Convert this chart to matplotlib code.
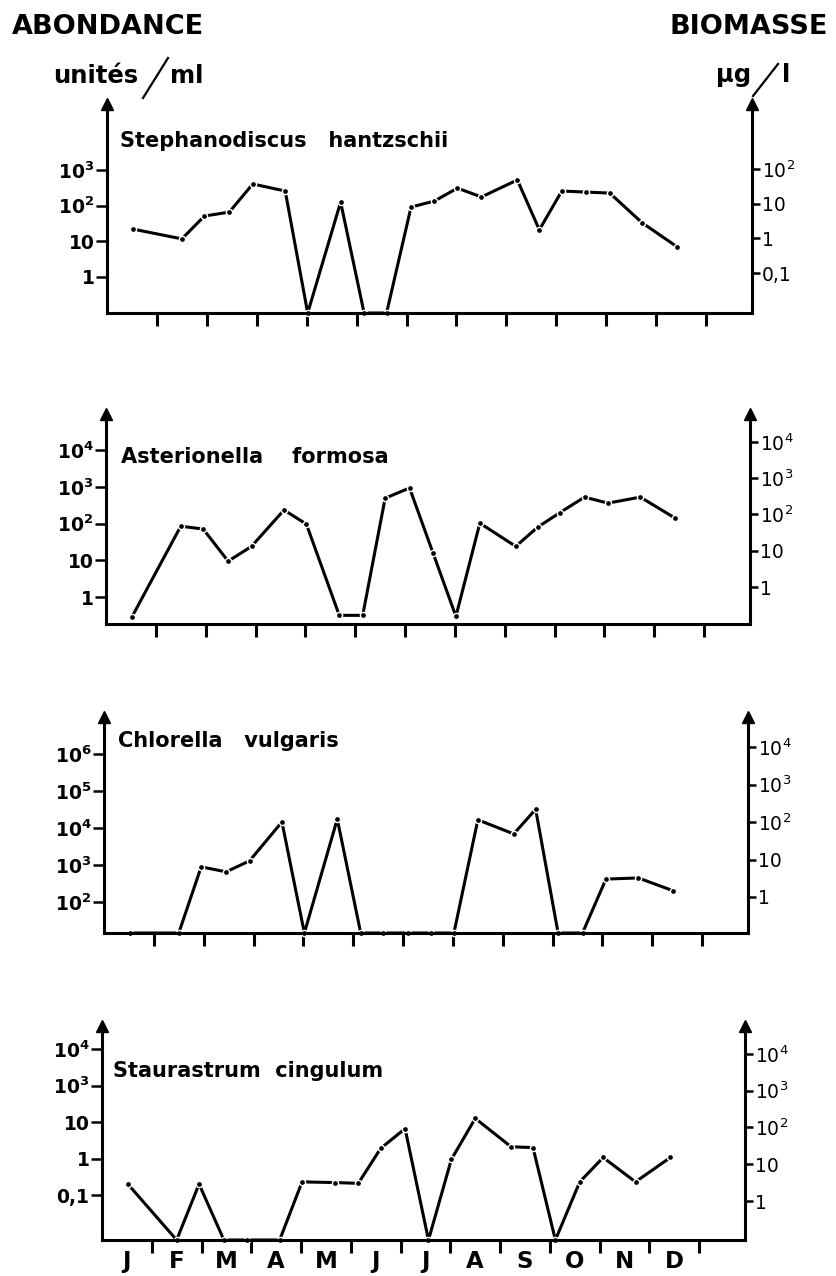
"""Seasonal abundance and biomass of four phytoplankton species (log scales)."""

import numpy as np
import matplotlib.pyplot as plt
from matplotlib.lines import Line2D
from matplotlib.ticker import NullLocator

plt.rcParams["font.family"] = ["DejaVu Sans"]
plt.rcParams["mathtext.default"] = "regular"

W, H = 837, 1276

month_labels = ["J", "F", "M", "A", "M", "J", "J", "A", "S", "O", "N", "D"]

# sampling dates, in months counted from 1 January
sample_month = [0.52, 1.50, 1.95, 2.45, 2.92, 3.57, 4.02, 4.68, 5.15, 5.60, 6.09,
                6.56, 7.02, 7.50, 8.22, 8.66, 9.11, 9.60, 10.07, 10.72, 11.42]

# abundance in units per ml (0 = not detected)
stephanodiscus = [22, 11.7, 51, 66, 405, 257, 0, 126, 0, 0, 91,
                  135, 310, 175, 525, 21, 257, 240, 225, 33, 7]
asterionella = [0.29, 85, 71, 9.5, 24, 234, 97, 0.32, 0.32, 490, 930,
                16, 0.3, 103, 24, 80, 200, 525, 360, 525, 140]
chlorella = [0, 0, 890, 650, 1290, 14500, 0, 17400, 0, 0, 0,
             0, 0, 16600, 6900, 32000, 0, 0, 415, 445, 200]
staurastrum = [0.2, 0, 0.2, 0, 0, 0, 0.23, 0.22, 0.21, 1.9, 6.6,
               0, 0.95, 12.6, 2.1, 2.0, 0, 0.23, 1.07, 0.23, 1.07]

steph_left_ticks = [1, 10, 100, 1000]
steph_left_labels = ["1", "10", "$10^2$", "$10^3$"]
steph_right_ticks = [0.1, 1, 10, 100]
steph_right_labels = ["0,1", "1", "10", "$10^2$"]

aster_left_ticks = [1, 10, 100, 1000, 10000]
aster_left_labels = ["1", "10", "$10^2$", "$10^3$", "$10^4$"]
aster_right_ticks = [1, 10, 100, 1000, 10000]
aster_right_labels = ["1", "10", "$10^2$", "$10^3$", "$10^4$"]

chlor_left_ticks = [1e2, 1e3, 1e4, 1e5, 1e6]
chlor_left_labels = ["$10^2$", "$10^3$", "$10^4$", "$10^5$", "$10^6$"]
chlor_right_ticks = [1, 10, 100, 1000, 10000]
chlor_right_labels = ["1", "10", "$10^2$", "$10^3$", "$10^4$"]

# the printed scale on this one jumps from 10 straight to 10^3
staur_left_ticks = [0.1, 1, 10, 100, 1000]
staur_left_labels = ["0,1", "1", "10", "$10^3$", "$10^4$"]
staur_right_ticks = [1, 10, 100, 1000, 10000]
staur_right_labels = ["1", "10", "$10^2$", "$10^3$", "$10^4$"]

panels = [
    dict(title="Stephanodiscus   hantzschii", values=stephanodiscus,
         frame=(107, 752, 313, 104), left_lim=(-1.01, 4.85), right_lim=(-2.15, 3.87),
         left=(steph_left_ticks, steph_left_labels),
         right=(steph_right_ticks, steph_right_labels), title_at=(120, 147)),
    dict(title="Asterionella    formosa", values=asterionella,
         frame=(106, 750, 624, 414), left_lim=(-0.73, 4.98), right_lim=(-1.02, 4.77),
         left=(aster_left_ticks, aster_left_labels),
         right=(aster_right_ticks, aster_right_labels), title_at=(121, 463)),
    dict(title="Chlorella   vulgaris", values=chlorella,
         frame=(104, 748, 933, 717), left_lim=(1.16, 7.0), right_lim=(-0.96, 4.8),
         left=(chlor_left_ticks, chlor_left_labels),
         right=(chlor_right_ticks, chlor_right_labels), title_at=(118, 747)),
    dict(title="Staurastrum  cingulum", values=staurastrum,
         frame=(102, 745, 1240, 1026), left_lim=(-2.23, 3.63), right_lim=(-1.06, 4.76),
         left=(staur_left_ticks, staur_left_labels),
         right=(staur_right_ticks, staur_right_labels), title_at=(113, 1077)),
]

LW = 2.2


def draw_panel(fig, spec, show_months):
    x0, x1, yb, yt = spec["frame"]
    ax = fig.add_axes([x0 / W, 1 - yb / H, (x1 - x0) / W, (yb - yt) / H])
    ax.set_xlim(0, 12.92)
    ax.set_yscale("log")
    lo, hi = spec["left_lim"]
    ax.set_ylim(10 ** lo, 10 ** hi)

    ax.spines["top"].set_visible(False)
    ax.spines["right"].set_visible(False)
    for side in ("left", "bottom"):
        ax.spines[side].set_linewidth(LW)

    ticks, labels = spec["left"]
    ax.set_yticks(ticks, labels)
    ax.yaxis.set_minor_locator(NullLocator())
    ax.tick_params(axis="y", direction="out", length=8, width=1.8, pad=1,
                   labelsize=13.5)
    for lab in ax.get_yticklabels():
        lab.set_fontweight("bold")

    ax.set_xticks(range(1, 13), [""] * 12)
    ax.tick_params(axis="x", which="major", direction="out", length=9, width=LW)
    if show_months:
        ax.set_xticks(np.arange(12) + 0.5, month_labels, minor=True)
        ax.tick_params(axis="x", which="minor", length=0, pad=7.5, labelsize=16.5)
        for lab in ax.get_xticklabels(minor=True):
            lab.set_fontweight("bold")

    # right-hand biomass scale
    ax2 = ax.twinx()
    ax2.set_yscale("log")
    rlo, rhi = spec["right_lim"]
    ax2.set_ylim(10 ** rlo, 10 ** rhi)
    for side in ("left", "top", "bottom"):
        ax2.spines[side].set_visible(False)
    ax2.spines["right"].set_linewidth(LW)
    rticks, rlabels = spec["right"]
    ax2.set_yticks(rticks, rlabels)
    ax2.yaxis.set_minor_locator(NullLocator())
    ax2.tick_params(axis="y", direction="out", length=6, width=1.8, pad=1,
                    labelsize=13.5)

    # arrow heads on both vertical axes
    for xa in (0, 1):
        ax.plot([xa], [1], marker="^", ms=8, color="k", transform=ax.transAxes,
                clip_on=False, zorder=4)

    vals = np.asarray(spec["values"], dtype=float)
    y = np.where(vals > 0, vals, 10 ** lo)
    ax.plot(sample_month, y, "-", color="k", lw=LW, clip_on=False, zorder=2,
            solid_capstyle="butt")
    ax.plot(sample_month, y, "o", ms=5.5, color="white", mew=0, clip_on=False,
            zorder=2.3)
    ax.plot(sample_month, y, "o", ms=3.4, color="k", mew=0, clip_on=False,
            zorder=3)

    tx, ty = spec["title_at"]
    fig.text(tx / W, 1 - ty / H, spec["title"], fontsize=15, fontweight="bold",
             va="baseline")
    return ax


def main() -> None:
    fig = plt.figure(figsize=(W / 100, H / 100), dpi=100)

    fig.text(12 / W, 1 - 27 / H, "ABONDANCE", fontsize=19.5, fontweight="bold",
             va="center")
    fig.text(828 / W, 1 - 27 / H, "BIOMASSE", fontsize=19.5, fontweight="bold",
             va="center", ha="right")

    fig.text(53 / W, 1 - 83 / H, "unités", fontsize=17.5, fontweight="bold",
             va="baseline")
    fig.text(170 / W, 1 - 83 / H, "ml", fontsize=17.5, fontweight="bold",
             va="baseline")
    fig.add_artist(Line2D([143 / W, 168 / W], [1 - 98 / H, 1 - 58 / H],
                          color="k", lw=1.6))

    fig.text(716 / W, 1 - 82 / H, "µg", fontsize=17.5, fontweight="bold",
             va="baseline")
    fig.text(782 / W, 1 - 82 / H, "l", fontsize=17.5, fontweight="bold",
             va="baseline")
    fig.add_artist(Line2D([753 / W, 778 / W], [1 - 96 / H, 1 - 64 / H],
                          color="k", lw=1.6))

    for i, spec in enumerate(panels):
        draw_panel(fig, spec, show_months=(i == len(panels) - 1))

    fig.savefig("out.png", dpi=100)
    plt.close(fig)


if __name__ == "__main__":
    main()
